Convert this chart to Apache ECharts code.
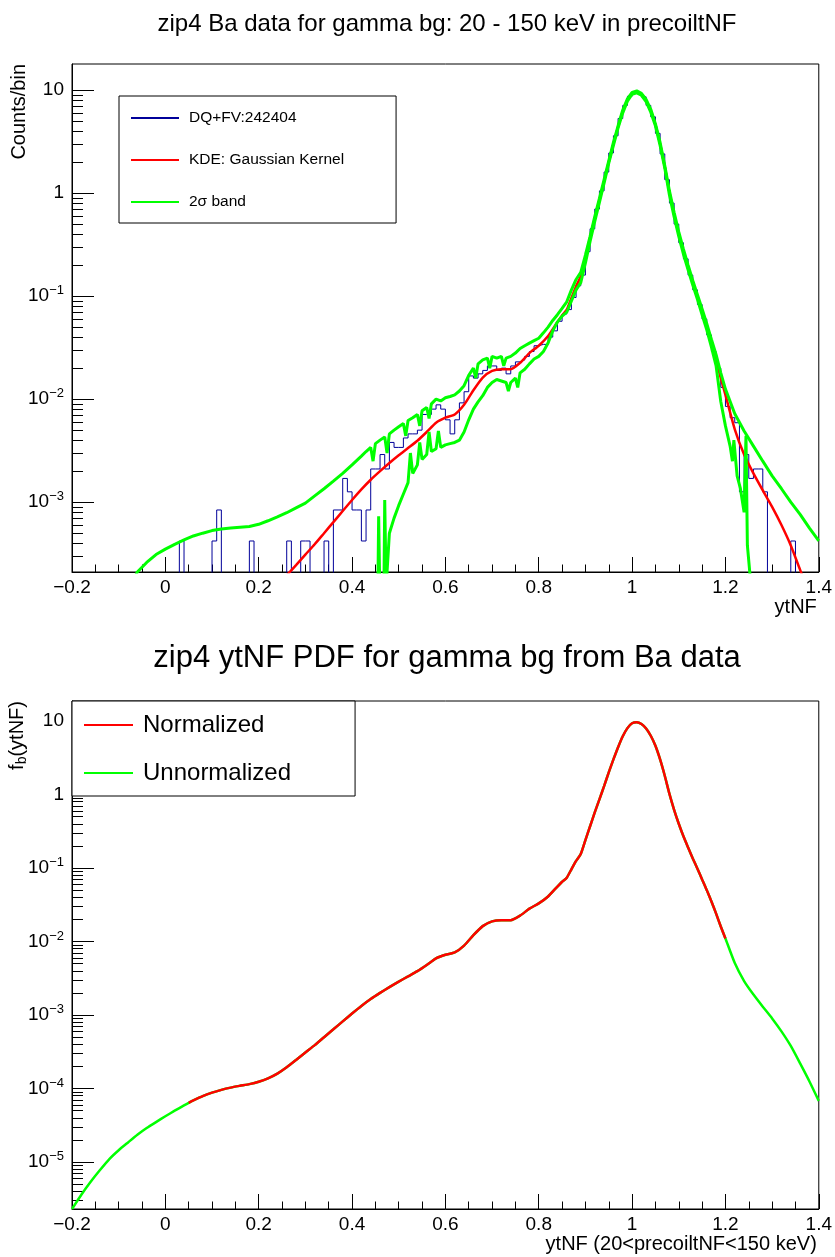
<!DOCTYPE html>
<html><head><meta charset="utf-8">
<script src="https://cdn.jsdelivr.net/npm/echarts@6/dist/echarts.min.js"></script>
<style>html,body{margin:0;padding:0;background:#fff}#c{width:835px;height:1257px}</style>
</head><body><div id="c"></div><script>
const FONT = '"Liberation Sans", Arial, Helvetica, sans-serif';

// ---------------- data ----------------
const topTitle = 'zip4 Ba data for gamma bg: 20 - 150 keV in precoiltNF';
const bottomTitle = 'zip4 ytNF PDF for gamma bg from Ba data';
const topXName = 'ytNF';
const bottomXName = 'ytNF (20<precoiltNF<150 keV)';
const topYName = 'Counts/bin';
const xRange = [-0.2, 1.4];
const xStep = 0.2;
const xTickLabels = ['\u22120.2','0','0.2','0.4','0.6','0.8','1','1.2','1.4'];
const topYRange = [2.1e-4, 17.9];
const bottomYRange = [2.3e-6, 18.7];
const topYTickValues = [1e-3, 1e-2, 1e-1, 1, 10];
const topYTickLabels = ['10^{\u22123}','10^{\u22122}','10^{\u22121}','1','10'];
const bottomYTickValues = [1e-5, 1e-4, 1e-3, 1e-2, 1e-1, 1, 10];
const bottomYTickLabels = ['10^{\u22125}','10^{\u22124}','10^{\u22123}','10^{\u22122}','10^{\u22121}','1','10'];

// histogram (Counts/bin), bins of 0.01
const histBinWidth = 0.01;
const histSparseEdges  = [0.03, 0.10, 0.11, 0.18, 0.26, 0.29, 0.30, 0.34, 1.34];
const histSparseValues = [4.2e-4, 4.2e-4, 8.4e-4, 4.2e-4, 4.2e-4, 4.2e-4, 4.2e-4, 4.2e-4, 4.2e-4];
const histBlockStart = 0.36;
const histBlockValues = [
  8.4e-4,8.4e-4,1.7e-3,1.26e-3,8.4e-4,8.4e-4,4.2e-4,8.4e-4,2.1e-3,2.1e-3,
  2.9e-3,2.1e-3,3.8e-3,3.4e-3,3.4e-3,4.2e-3,4.6e-3,4.6e-3,5.0e-3,7.1e-3,
  7.1e-3,8.0e-3,8.8e-3,8.0e-3,6.3e-3,4.6e-3,6.3e-3,9.2e-3,1.18e-2,1.68e-2,
  1.6e-2,1.76e-2,1.9e-2,2.1e-2,2.1e-2,1.9e-2,2.0e-2,1.76e-2,2.1e-2,2.3e-2,
  2.4e-2,2.6e-2,2.9e-2,3.3e-2,3.4e-2,3.4e-2,4.0e-2,4.6e-2,5.7e-2,6.7e-2,
  7.4e-2,9.7e-2,0.126,0.16,0.27,0.45,0.70,1.05,1.6,2.45,
  3.6,5.3,7.1,8.7,9.5,9.4,8.6,7.1,5.5,3.8,
  2.4,1.35,0.80,0.50,0.33,0.23,0.16,0.115,0.083,0.060,
  0.042,0.029,0.020,0.013,0.0085,0.0066,0.0059,0.00126,0.0029,0.0017,
  0.0021,0.0021,0.00126
];

// KDE / PDF curve
const kdeX = [
  -0.20,-0.18,-0.16,-0.14,-0.12,-0.10,-0.08,-0.06,-0.04,-0.02,
  0.00,0.02,0.04,0.05,0.06,0.08,0.10,0.12,0.14,0.16,
  0.18,0.20,0.22,0.24,0.26,0.28,0.30,0.32,0.34,0.36,
  0.38,0.40,0.42,0.44,0.46,0.48,0.50,0.52,0.54,0.56,
  0.58,0.60,0.62,0.64,0.66,0.68,0.70,0.72,0.74,0.76,
  0.78,0.80,0.82,0.84,0.85,0.86,0.87,0.88,0.89,0.90,
  0.91,0.92,0.93,0.94,0.95,0.96,0.97,0.98,0.99,1.00,
  1.01,1.02,1.03,1.04,1.05,1.06,1.07,1.08,1.09,1.10,
  1.11,1.12,1.13,1.14,1.15,1.16,1.17,1.18,1.19,1.20,
  1.22,1.24,1.26,1.28,1.30,1.32,1.34,1.36,1.38,1.40
];
const kdeY = [
  2.3e-6,3.6e-6,5.4e-6,7.8e-6,1.1e-5,1.45e-5,1.85e-5,2.35e-5,2.9e-5,3.5e-5,
  4.2e-5,5.0e-5,5.9e-5,6.4e-5,6.9e-5,7.9e-5,8.8e-5,9.6e-5,1.03e-4,1.09e-4,
  1.15e-4,1.24e-4,1.38e-4,1.6e-4,1.95e-4,2.45e-4,3.1e-4,3.9e-4,5.0e-4,6.4e-4,
  8.2e-4,1.05e-3,1.33e-3,1.65e-3,2.0e-3,2.4e-3,2.85e-3,3.35e-3,3.95e-3,4.8e-3,
  5.9e-3,6.6e-3,7.1e-3,8.8e-3,1.22e-2,1.62e-2,1.88e-2,1.95e-2,1.95e-2,2.25e-2,
  2.8e-2,3.3e-2,4.1e-2,5.6e-2,6.5e-2,7.4e-2,9.6e-2,0.125,0.155,0.24,
  0.37,0.57,0.86,1.3,2.0,3.0,4.4,6.2,8.0,9.3,
  9.6,9.1,7.9,6.3,4.6,3.0,1.8,1.02,0.62,0.40,
  0.27,0.19,0.135,0.098,0.07,0.05,0.035,0.024,0.016,0.011,
  5.1e-3,2.9e-3,1.9e-3,1.3e-3,9.0e-4,6.0e-4,3.8e-4,2.2e-4,1.25e-4,6.8e-5
];
const normalizedRange = [0.05, 1.20];

// 2 sigma band
const bandUpper = [
  [-0.07,1.7e-4],[-0.06,2.1e-4],[-0.04,2.6e-4],[-0.02,3.1e-4],[0.00,3.5e-4],[0.02,3.9e-4],[0.04,4.3e-4],
  [0.06,4.7e-4],[0.08,5.0e-4],[0.10,5.3e-4],[0.12,5.5e-4],[0.14,5.6e-4],[0.16,5.7e-4],[0.18,5.8e-4],
  [0.20,6.1e-4],[0.22,6.6e-4],[0.24,7.2e-4],[0.26,7.9e-4],[0.28,8.8e-4],[0.30,9.8e-4],[0.32,1.15e-3],
  [0.34,1.35e-3],[0.36,1.6e-3],[0.38,1.9e-3],[0.40,2.3e-3],[0.42,2.8e-3],[0.43,3.1e-3],[0.44,3.4e-3],
  [0.445,2.5e-3],[0.45,3.7e-3],[0.46,4.0e-3],[0.47,4.3e-3],[0.475,3.0e-3],[0.48,4.6e-3],[0.49,5.0e-3],
  [0.50,5.4e-3],[0.51,5.8e-3],[0.515,4.4e-3],[0.52,6.2e-3],[0.53,6.6e-3],[0.54,7.1e-3],[0.545,5.5e-3],
  [0.55,7.7e-3],[0.56,8.3e-3],[0.565,6.5e-3],[0.57,9.0e-3],[0.58,1.0e-2],[0.59,9.6e-3],[0.60,1.03e-2],
  [0.61,1.06e-2],[0.62,1.1e-2],[0.63,1.2e-2],[0.64,1.35e-2],[0.65,1.7e-2],[0.66,2.0e-2],[0.665,1.6e-2],
  [0.67,2.2e-2],[0.68,2.4e-2],[0.69,2.5e-2],[0.695,2.0e-2],[0.70,2.6e-2],[0.71,2.5e-2],[0.72,2.6e-2],
  [0.725,2.1e-2],[0.73,2.5e-2],[0.74,2.6e-2],[0.75,2.8e-2],[0.76,3.1e-2],[0.77,3.3e-2],[0.78,3.5e-2],
  [0.79,3.7e-2],[0.80,3.9e-2],[0.81,4.4e-2],[0.82,5.0e-2],[0.83,5.8e-2],[0.84,6.6e-2],[0.85,7.6e-2],
  [0.86,8.8e-2],[0.87,0.115],[0.88,0.145],[0.89,0.17],[0.90,0.25],[0.91,0.38],[0.92,0.59],[0.93,0.89],
  [0.94,1.35],[0.95,2.05],[0.96,3.1],[0.97,4.5],[0.98,6.4],[0.99,8.2],[1.00,9.5],[1.01,9.8],[1.02,9.3],
  [1.03,8.1],[1.04,6.5],[1.05,4.7],[1.06,3.1],[1.07,1.85],[1.08,1.05],[1.09,0.65],[1.10,0.42],
  [1.11,0.285],[1.12,0.2],[1.13,0.142],[1.14,0.103],[1.15,0.075],[1.16,0.054],[1.17,0.038],[1.18,0.027],
  [1.19,0.018],[1.20,0.0125],[1.22,7.2e-3],[1.24,4.9e-3],[1.26,3.5e-3],[1.28,2.5e-3],[1.30,1.8e-3],
  [1.32,1.35e-3],[1.34,1.0e-3],[1.36,7.6e-4],[1.38,5.6e-4],[1.40,4.2e-4]
];
const bandLower = [
  [0.44,1e-4],[0.455,1e-4],[0.457,7.3e-4],[0.46,1e-4],[0.468,1e-4],[0.47,1.05e-3],[0.473,1.5e-4],
  [0.48,5.0e-4],[0.49,7.0e-4],[0.50,9.3e-4],[0.51,1.2e-3],[0.52,1.55e-3],[0.525,3.0e-3],[0.53,1.9e-3],
  [0.54,2.3e-3],[0.545,3.8e-3],[0.55,2.6e-3],[0.56,2.9e-3],[0.565,4.8e-3],[0.57,3.1e-3],[0.58,3.3e-3],
  [0.585,4.9e-3],[0.59,3.4e-3],[0.60,3.6e-3],[0.61,3.7e-3],[0.62,3.8e-3],[0.63,4.0e-3],[0.64,4.8e-3],
  [0.65,6.3e-3],[0.66,8.0e-3],[0.67,9.4e-3],[0.68,1.08e-2],[0.69,1.3e-2],[0.70,1.45e-2],[0.71,1.55e-2],
  [0.72,1.5e-2],[0.73,1.45e-2],[0.735,1.2e-2],[0.74,1.45e-2],[0.75,1.6e-2],[0.755,1.3e-2],[0.76,1.8e-2],
  [0.77,1.95e-2],[0.78,2.2e-2],[0.79,2.45e-2],[0.80,2.6e-2],[0.81,2.9e-2],[0.82,3.5e-2],[0.83,4.6e-2],
  [0.84,5.6e-2],[0.85,6.4e-2],[0.86,7.0e-2],[0.87,9.0e-2],[0.88,0.115],[0.89,0.135],[0.90,0.21],
  [0.91,0.34],[0.92,0.53],[0.93,0.81],[0.94,1.25],[0.95,1.95],[0.96,2.9],[0.97,4.3],[0.98,6.0],
  [0.99,7.8],[1.00,9.1],[1.01,9.4],[1.02,8.9],[1.03,7.7],[1.04,6.1],[1.05,4.5],[1.06,2.9],[1.07,1.75],
  [1.08,0.96],[1.09,0.59],[1.10,0.38],[1.11,0.255],[1.12,0.18],[1.13,0.128],[1.14,0.093],[1.15,0.066],
  [1.16,0.047],[1.17,0.032],[1.18,0.021],[1.19,0.0095],[1.20,5.5e-3],[1.21,3.5e-3],[1.215,2.5e-3],
  [1.218,4.0e-3],[1.225,1.8e-3],[1.232,1.36e-3],[1.24,8e-4],[1.244,4.4e-3],[1.247,3.8e-4],[1.255,1.5e-4]
];

// ---------------- build ----------------
const FLOOR = 1e-9; // empty bins drawn down past the frame (clipped)
const nBins = Math.round((xRange[1] - xRange[0]) / histBinWidth);
const hist = new Array(nBins).fill(0);
histSparseEdges.forEach((e, i) => { hist[Math.round((e - xRange[0]) / histBinWidth)] = histSparseValues[i]; });
const b0 = Math.round((histBlockStart - xRange[0]) / histBinWidth);
histBlockValues.forEach((v, i) => { hist[b0 + i] = v; });
const histData = [];
for (let i = 0; i < nBins; i++) histData.push([+(xRange[0] + i * histBinWidth).toFixed(3), hist[i] || FLOOR]);
histData.push([xRange[1], hist[nBins - 1] || FLOOR]);

const kdeData = kdeX.map((x, i) => [x, kdeY[i]]);
const normData = kdeData.filter(p => p[0] >= normalizedRange[0] - 1e-9 && p[0] <= normalizedRange[1] + 1e-9);

function richLabel(s) {
  const m = s.match(/^(\d+)\^\{(.+)\}$/);
  return m ? '{b|' + m[1] + '}{s|' + m[2] + '}' : '{b|' + s + '}';
}
function yFormatter(values, labels) {
  return function (v) {
    let best = 0, d = Infinity;
    values.forEach((t, i) => { const dd = Math.abs(Math.log10(t) - Math.log10(v)); if (dd < d) { d = dd; best = i; } });
    return richLabel(labels[best]);
  };
}
function minorTicks(range) {
  const out = [];
  for (let e = Math.floor(Math.log10(range[0])); e <= Math.ceil(Math.log10(range[1])); e++) {
    for (let m = 2; m <= 9; m++) { const v = m * Math.pow(10, e); if (v >= range[0] && v <= range[1]) out.push(v); }
  }
  return out;
}

function xAxisCfg(grid, name) {
  return {
    type: 'value', gridIndex: grid, min: xRange[0], max: xRange[1], interval: xStep,
    axisLine: { show: true, onZero: false, lineStyle: { color: '#000', width: 1 } },
    axisTick: { show: true, inside: true, length: 15, lineStyle: { color: '#000' } },
    minorTick: { show: true, splitNumber: 4, length: 7.5, lineStyle: { color: '#000' } },
    splitLine: { show: false }, minorSplitLine: { show: false },
    axisLabel: { color: '#000', fontSize: 19, fontFamily: FONT, margin: 6,
      formatter: v => xTickLabels[Math.round((v - xRange[0]) / xStep)] },
    name: name, nameLocation: 'end', nameGap: -2,
    nameTextStyle: { color: '#000', fontSize: 20, fontFamily: FONT, align: 'right', verticalAlign: 'top', padding: [25, 0, 0, 0] }
  };
}
function yMajor(grid, range, vals, labels, name, nameRich) {
  return {
    type: 'log', logBase: 10, gridIndex: grid, min: range[0], max: range[1], position: 'left',
    axisLine: { show: true, onZero: false, lineStyle: { color: '#000' } },
    axisTick: { show: true, inside: true, length: 22, customValues: vals, lineStyle: { color: '#000' } },
    axisLabel: { show: true, customValues: vals, margin: 8, formatter: yFormatter(vals, labels),
      rich: { b: { fontSize: 19, lineHeight: 24, fontFamily: FONT, color: '#000' },
              s: { fontSize: 13, lineHeight: 12, verticalAlign: 'top', fontFamily: FONT, color: '#000' } } },
    splitLine: { show: false }, minorTick: { show: false },
    name: name, nameLocation: 'end', nameGap: 0, nameRotate: 90,
    nameTextStyle: { color: '#000', fontSize: 20, fontFamily: FONT, align: 'right', verticalAlign: 'bottom',
      padding: [0, 0, 43, 0], rich: nameRich }
  };
}
function yMinor(grid, range) {
  return {
    type: 'log', logBase: 10, gridIndex: grid, min: range[0], max: range[1], position: 'left', offset: 0,
    axisLine: { show: false, onZero: false }, axisLabel: { show: false }, splitLine: { show: false },
    axisTick: { show: true, inside: true, length: 11, customValues: minorTicks(range), lineStyle: { color: '#000' } }
  };
}

const chart = echarts.init(document.getElementById('c'), null, { renderer: 'canvas' });
chart.setOption({
  animation: false,
  backgroundColor: '#fff',
  title: [
    { text: topTitle, left: 447, top: 12, textAlign: 'center', padding: 0,
      textStyle: { fontSize: 24, fontWeight: 'normal', color: '#000', fontFamily: FONT, lineHeight: 24 } },
    { text: bottomTitle, left: 447, top: 643, textAlign: 'center', padding: 0,
      textStyle: { fontSize: 31, fontWeight: 'normal', color: '#000', fontFamily: FONT, lineHeight: 31 } }
  ],
  grid: [
    { left: 72, top: 64, width: 750, height: 508, show: true, borderColor: '#000', borderWidth: 1, backgroundColor: 'transparent' },
    { left: 72, top: 701, width: 750, height: 508, show: true, borderColor: '#000', borderWidth: 1, backgroundColor: 'transparent' }
  ],
  xAxis: [ xAxisCfg(0, topXName), xAxisCfg(1, bottomXName) ],
  yAxis: [
    yMajor(0, topYRange, topYTickValues, topYTickLabels, topYName, {}),
    yMinor(0, topYRange),
    yMajor(1, bottomYRange, bottomYTickValues, bottomYTickLabels, '{a|f}{s|b}{a|(ytNF)}',
      { a: { fontSize: 20, lineHeight: 24, fontFamily: FONT, color: '#000' },
        s: { fontSize: 14, lineHeight: 14, verticalAlign: 'bottom', fontFamily: FONT, color: '#000' } }),
    yMinor(1, bottomYRange)
  ],
  legend: [
    { data: ['DQ+FV:242404', 'KDE: Gaussian Kernel', '2\u03c3 band'], orient: 'vertical', left: 119, top: 96,
      itemWidth: 48, itemHeight: 14, itemGap: 26, padding: [14, 52, 13, 11],
      borderColor: '#000', borderWidth: 1, backgroundColor: '#fff', selectedMode: false,
      itemStyle: { opacity: 0 },
      textStyle: { fontSize: 15.5, color: '#000', fontFamily: FONT, padding: [0, 0, 0, 5] } },
    { data: ['Normalized', 'Unnormalized'], orient: 'vertical', left: 72, top: 701,
      itemWidth: 49, itemHeight: 24, itemGap: 24, padding: [12, 64, 11, 11],
      borderColor: '#000', borderWidth: 1, backgroundColor: '#fff', selectedMode: false,
      itemStyle: { opacity: 0 },
      textStyle: { fontSize: 24, color: '#000', fontFamily: FONT, padding: [0, 0, 0, 5] } }
  ],
  series: [
    { name: 'DQ+FV:242404', type: 'line', xAxisIndex: 0, yAxisIndex: 0, data: histData, step: 'end',
      symbol: 'none', lineStyle: { color: '#000099', width: 1 }, itemStyle: { color: '#000099' }, z: 2 },
    { name: 'KDE: Gaussian Kernel', type: 'line', xAxisIndex: 0, yAxisIndex: 0, data: kdeData, symbol: 'none',
      smooth: 0.2, lineStyle: { color: '#ff0000', width: 2.5 }, itemStyle: { color: '#ff0000' }, z: 3 },
    { name: '2\u03c3 band', type: 'line', xAxisIndex: 0, yAxisIndex: 0, data: bandUpper, symbol: 'none',
      lineStyle: { color: '#00ff00', width: 3 }, itemStyle: { color: '#00ff00' }, z: 4 },
    { name: '2\u03c3 band', type: 'line', xAxisIndex: 0, yAxisIndex: 0, data: bandLower, symbol: 'none',
      lineStyle: { color: '#00ff00', width: 3 }, itemStyle: { color: '#00ff00' }, z: 4 },
    { name: 'Unnormalized', type: 'line', xAxisIndex: 1, yAxisIndex: 2, data: kdeData, symbol: 'none',
      smooth: 0.2, lineStyle: { color: '#00ff00', width: 2.5 }, itemStyle: { color: '#00ff00' }, z: 3 },
    { name: 'Normalized', type: 'line', xAxisIndex: 1, yAxisIndex: 2, data: normData, symbol: 'none',
      smooth: 0.2, lineStyle: { color: '#ff0000', width: 2.5 }, itemStyle: { color: '#ff0000' }, z: 4 }
  ]
});
</script></body></html>
